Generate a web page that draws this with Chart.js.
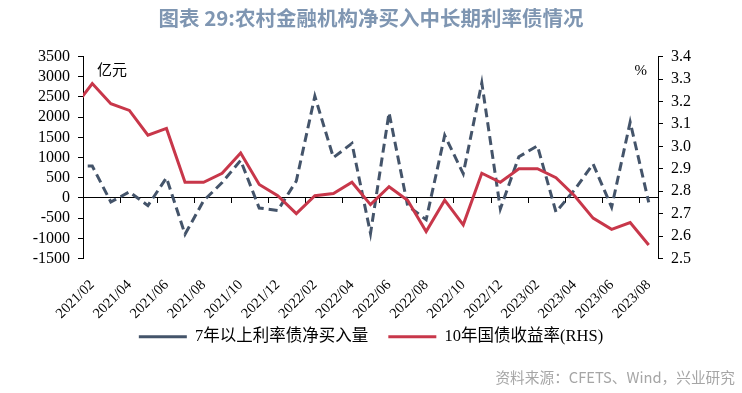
<!DOCTYPE html>
<html lang="zh">
<head>
    <meta charset="UTF-8">
    <script src="https://cdn.jsdelivr.net/npm/chart.js"></script>
    <style>
        body {
            margin: 0;
            background: #fff;
        }

        .wrap {
            width: 742px;
            height: 393px;
        }
    </style>
</head>
<body>
    <div class="wrap">
        <canvas id="bondChart"></canvas>
    </div>

    <script>
        // monthly data, 2021/01 only shows as the clipped start of the lines
        const months = [
            '2021/01', '2021/02', '2021/03', '2021/04', '2021/05', '2021/06', '2021/07', '2021/08',
            '2021/09', '2021/10', '2021/11', '2021/12', '2022/01', '2022/02', '2022/03', '2022/04',
            '2022/05', '2022/06', '2022/07', '2022/08', '2022/09', '2022/10', '2022/11', '2022/12',
            '2023/01', '2023/02', '2023/03', '2023/04', '2023/05', '2023/06', '2023/07', '2023/08'
        ];
        const netBuy = [
            790, 790, -100, 150, -190, 500, -900, -70,
            380, 930, -250, -310, 420, 2520, 1000, 1350,
            -880, 2110, -190, -540, 1550, 600, 2850, -270,
            1020, 1290, -350, 200, 840, -230, 1880, -110
        ];
        const yield10y = [
            3.17, 3.28, 3.19, 3.16, 3.05, 3.08, 2.84, 2.84,
            2.88, 2.97, 2.83, 2.78, 2.70, 2.78, 2.79, 2.84,
            2.74, 2.82, 2.76, 2.62, 2.76, 2.65, 2.88, 2.84,
            2.90, 2.90, 2.86, 2.78, 2.68, 2.63, 2.66, 2.56
        ];
        const seriesNames = ['7年以上利率债净买入量', '10年国债收益率(RHS)'];
        const titleText = '图表 29:农村金融机构净买入中长期利率债情况';
        const leftUnit = '亿元';
        const rightUnit = '%';
        const sourceNote = '资料来源：CFETS、Wind，兴业研究';

        const serif = '"Liberation Serif", "Noto Sans CJK SC", serif';

        const extraText = {
            id: 'extraText',
            afterLayout(chart) {
                // month labels hang below their box, let them draw past it
                chart.scales.x2.bottom = chart.height;
            },
            afterDraw(chart) {
                const { ctx, chartArea } = chart;
                ctx.save();
                ctx.fillStyle = '#000';
                ctx.font = '15px ' + serif;
                ctx.textBaseline = 'middle';
                ctx.textAlign = 'left';
                ctx.fillText(leftUnit, chartArea.left + 14, chartArea.top + 14);
                ctx.textAlign = 'right';
                ctx.fillText(rightUnit, chartArea.right - 11, chartArea.top + 14);
                ctx.font = '14.7px "Noto Sans CJK SC", sans-serif';
                ctx.fillStyle = '#a6a6a6';
                ctx.fillText(sourceNote, chart.width - 7, chart.height - 16);
                ctx.restore();
            }
        };

        const ctx = document.getElementById('bondChart').getContext('2d');
        new Chart(ctx, {
            type: 'line',
            data: {
                labels: months,
                datasets: [{
                    label: seriesNames[0],
                    data: netBuy,
                    yAxisID: 'y',
                    borderColor: '#44546a',
                    backgroundColor: '#44546a',
                    borderWidth: 3,
                    borderDash: [9, 5],
                    pointRadius: 0,
                    order: 2
                }, {
                    label: seriesNames[1],
                    data: yield10y,
                    yAxisID: 'y1',
                    borderColor: '#c8374a',
                    backgroundColor: '#c8374a',
                    borderWidth: 3,
                    pointRadius: 0,
                    order: 1
                }]
            },
            options: {
                responsive: true,
                maintainAspectRatio: false,
                animation: false,
                layout: {
                    padding: { left: 0, right: 0, top: 0, bottom: 38 }
                },
                plugins: {
                    title: {
                        display: true,
                        text: titleText,
                        color: '#7f96b2',
                        font: { family: '"Noto Sans CJK SC", sans-serif', size: 20.5, weight: 'bold' },
                        padding: { top: 6, bottom: 26 }
                    },
                    legend: {
                        position: 'bottom',
                        labels: {
                            usePointStyle: true,
                            pointStyle: 'line',
                            pointStyleWidth: 48,
                            padding: 20,
                            color: '#000',
                            font: { family: serif, size: 16.5 },
                            sort: (a, b) => a.datasetIndex - b.datasetIndex
                        }
                    },
                    tooltip: { enabled: false }
                },
                scales: {
                    x: {
                        type: 'category',
                        position: { y: 0 },
                        offset: true,
                        min: '2021/02',
                        ticks: { display: false, autoSkip: false },
                        grid: {
                            offset: true,
                            drawOnChartArea: false,
                            tickLength: 5,
                            color: (c) => c.index % 2 === 0 ? '#000' : 'rgba(0,0,0,0)'
                        },
                        border: { display: true, color: '#000', width: 1 }
                    },
                    x2: {
                        type: 'category',
                        axis: 'x',
                        position: 'bottom',
                        offset: true,
                        min: '2021/02',
                        grid: { display: false, drawTicks: false },
                        border: { display: false },
                        ticks: {
                            autoSkip: false,
                            minRotation: 45,
                            maxRotation: 45,
                            padding: 18,
                            color: '#000',
                            font: { family: serif, size: 14.5 },
                            callback: function (value, index) {
                                return index % 2 === 0 ? this.getLabelForValue(value) : '';
                            }
                        },
                        afterFit: (s) => { s.height = 50; }
                    },
                    y: {
                        position: 'left',
                        min: -1500,
                        max: 3500,
                        ticks: {
                            stepSize: 500,
                            autoSkip: false,
                            padding: 8,
                            color: '#000',
                            font: { family: serif, size: 16 },
                            callback: (v) => String(v)
                        },
                        grid: { drawOnChartArea: false, tickLength: 5, color: '#000' },
                        border: { display: true, color: '#000', width: 1 },
                        afterFit: (s) => { s.width = 83; }
                    },
                    y1: {
                        position: 'right',
                        min: 2.5,
                        max: 3.4,
                        ticks: {
                            stepSize: 0.1,
                            autoSkip: false,
                            padding: 8,
                            color: '#000',
                            font: { family: serif, size: 16 },
                            callback: (v) => Number(v).toFixed(1)
                        },
                        grid: { drawOnChartArea: false, tickLength: 5, color: '#000' },
                        border: { display: true, color: '#000', width: 1 },
                        afterFit: (s) => { s.width = 84; }
                    }
                }
            },
            plugins: [extraText]
        });
    </script>
</body>
</html>
